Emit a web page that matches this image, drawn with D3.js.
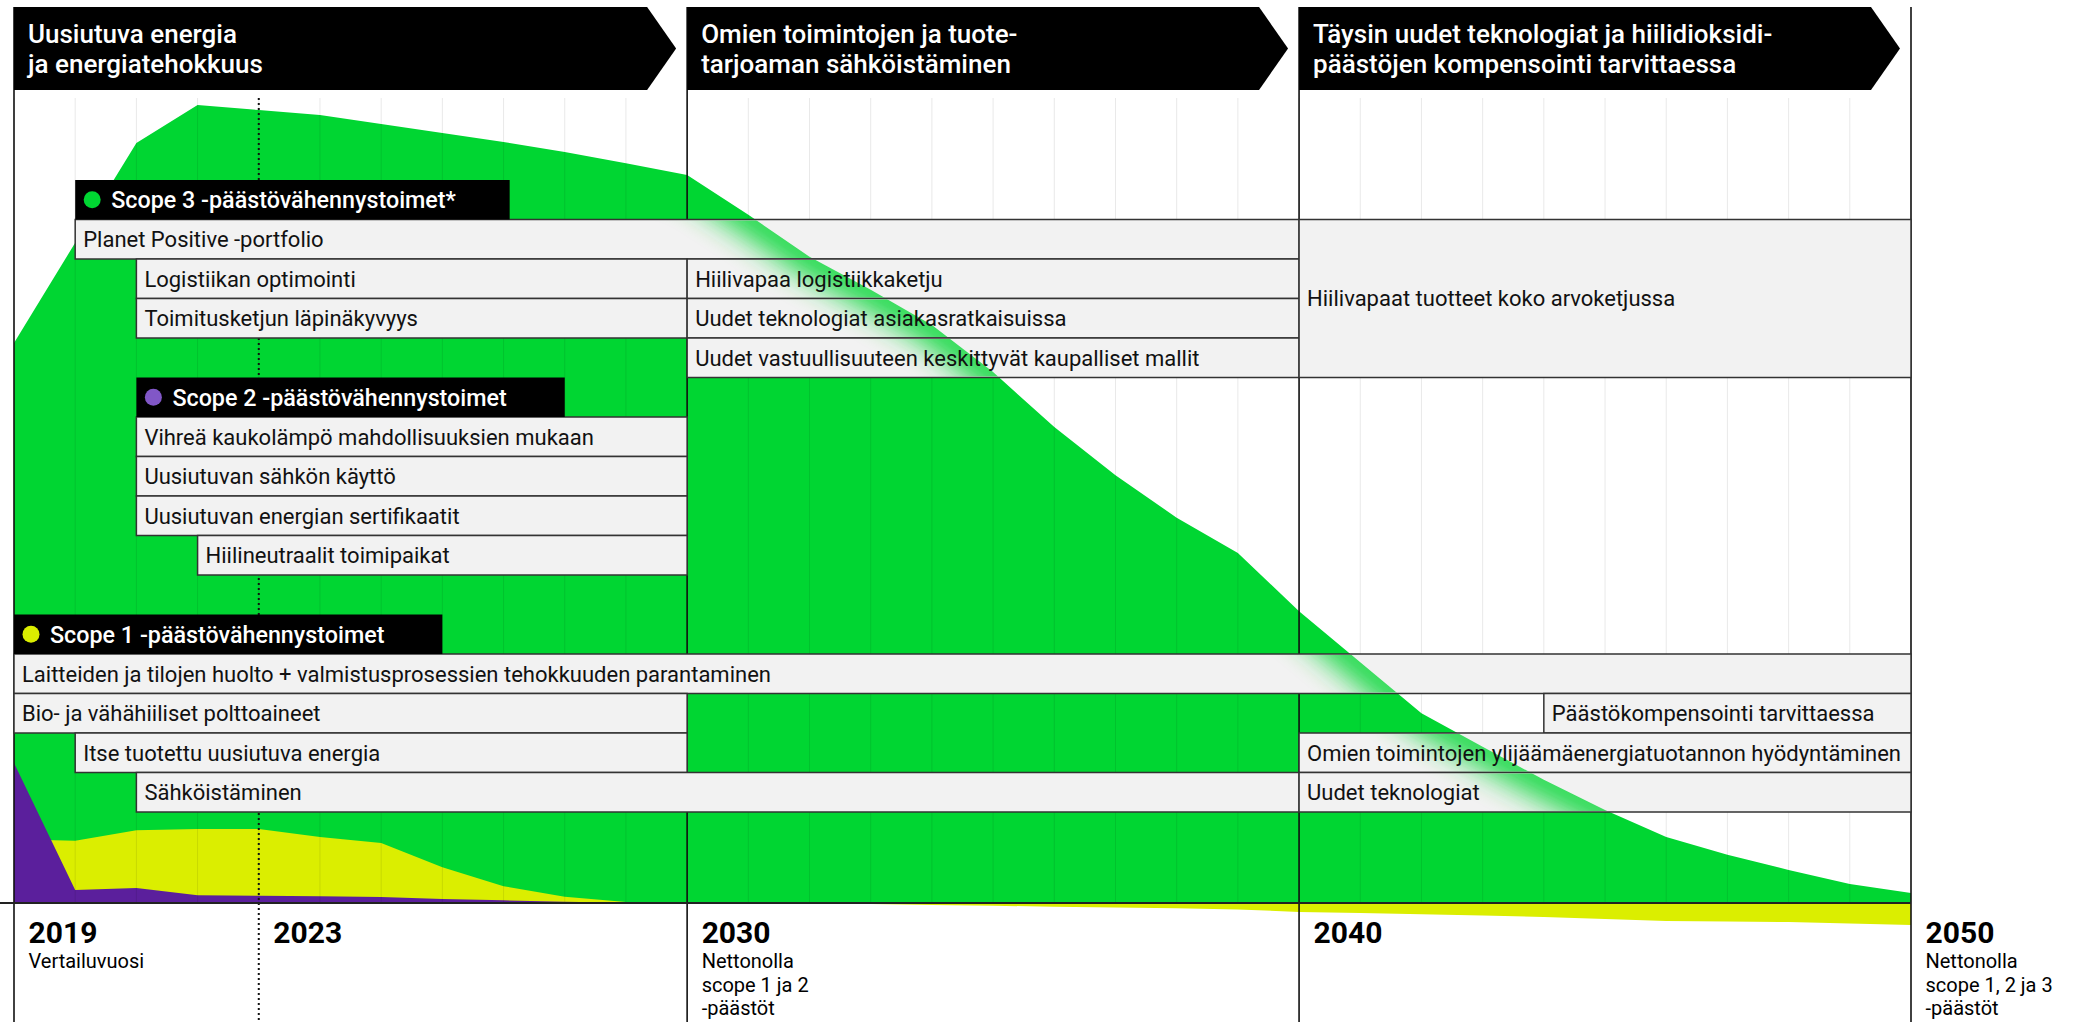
<!DOCTYPE html>
<html>
<head>
<meta charset="utf-8">
<script src="https://cdn.jsdelivr.net/npm/d3@7"></script>
<style>
  body { margin: 0; background: #fff; }
  svg { display: block; font-family: Roboto, "Noto Sans", sans-serif; }
</style>
</head>
<body>
<svg id="chart" width="2075" height="1022"></svg>
<script>
// Years on the time axis.
const years = [2019, 2020, 2021, 2022, 2023, 2024, 2025, 2026, 2027, 2028, 2029, 2030,
  2031, 2032, 2033, 2034, 2035, 2036, 2037, 2038, 2039, 2040,
  2041, 2042, 2043, 2044, 2045, 2046, 2047, 2048, 2049, 2050];

// Emissions index (2019 total = 100).
const total = [100, 117.9, 135.7, 142.5, 141.6, 140.7, 139.1, 137.5, 135.9, 134.1, 132.1, 130.0,
  122.9, 115.4, 109.5, 103.2, 94.8, 85.0, 76.4, 68.8, 62.5, 52.1,
  43.0, 33.9, 27.9, 22.0, 16.6, 11.8, 8.6, 5.9, 3.4, 1.8];
const scope1 = [11.4, 11.1, 13.0, 13.2, 13.2, 11.8, 10.7, 6.4, 3.0, 1.1, 0.2, 0,
  -0.05, -0.1, -0.2, -0.35, -0.5, -0.65, -0.8, -0.95, -1.15, -1.6,
  -1.8, -2.0, -2.25, -2.5, -2.85, -3.2, -3.3, -3.4, -3.65, -3.95];
const scope2 = [25.0, 2.3, 2.7, 1.4, 1.3, 1.2, 1.07, 0.7, 0.48, 0.23, 0.05, 0,
  0, 0, 0, 0, 0, 0, 0, 0, 0, 0,
  0, 0, 0, 0, 0, 0, 0, 0, 0, 0];

// Phase headers.
const phases = [
  { from: 2019, to: 2030, lines: ['Uusiutuva energia', 'ja energiatehokkuus'] },
  { from: 2030, to: 2040, lines: ['Omien toimintojen ja tuote-', 'tarjoaman sähköistäminen'] },
  { from: 2040, to: 2050, lines: ['Täysin uudet teknologiat ja hiilidioksidi-', 'päästöjen kompensointi tarvittaessa'] },
];

// Scope headings.
const scopes = [
  { label: 'Scope 3 -päästövähennystoimet*', row: 0, from: 2020, to: 2027.1, key: 'green' },
  { label: 'Scope 2 -päästövähennystoimet', row: 5, from: 2021, to: 2028, key: 'violet' },
  { label: 'Scope 1 -päästövähennystoimet', row: 11, from: 2019, to: 2026, key: 'yellow' },
];

// Actions on the timeline.
const actions = [
  { label: 'Planet Positive -portfolio', row: 1, from: 2020, to: 2040 },
  { label: 'Logistiikan optimointi', row: 2, from: 2021, to: 2030 },
  { label: 'Toimitusketjun läpinäkyvyys', row: 3, from: 2021, to: 2030 },
  { label: 'Hiilivapaa logistiikkaketju', row: 2, from: 2030, to: 2040 },
  { label: 'Uudet teknologiat asiakasratkaisuissa', row: 3, from: 2030, to: 2040 },
  { label: 'Uudet vastuullisuuteen keskittyvät kaupalliset mallit', row: 4, from: 2030, to: 2040 },
  { label: 'Hiilivapaat tuotteet koko arvoketjussa', row: 1, rows: 4, from: 2040, to: 2050 },
  { label: 'Vihreä kaukolämpö mahdollisuuksien mukaan', row: 6, from: 2021, to: 2030 },
  { label: 'Uusiutuvan sähkön käyttö', row: 7, from: 2021, to: 2030 },
  { label: 'Uusiutuvan energian sertifikaatit', row: 8, from: 2021, to: 2030 },
  { label: 'Hiilineutraalit toimipaikat', row: 9, from: 2022, to: 2030 },
  { label: 'Laitteiden ja tilojen huolto + valmistusprosessien tehokkuuden parantaminen', row: 12, from: 2019, to: 2050 },
  { label: 'Bio- ja vähähiiliset polttoaineet', row: 13, from: 2019, to: 2030 },
  { label: 'Päästökompensointi tarvittaessa', row: 13, from: 2044, to: 2050 },
  { label: 'Itse tuotettu uusiutuva energia', row: 14, from: 2020, to: 2030 },
  { label: 'Omien toimintojen ylijäämäenergiatuotannon hyödyntäminen', row: 14, from: 2040, to: 2050 },
  { label: 'Sähköistäminen', row: 15, from: 2021, to: 2040 },
  { label: 'Uudet teknologiat', row: 15, from: 2040, to: 2050 },
];

// Milestones under the axis.
const milestoneYears = [2019, 2023, 2030, 2040, 2050];
const milestoneNotes = [['Vertailuvuosi'], [], ['Nettonolla', 'scope 1 ja 2', '-päästöt'], [],
  ['Nettonolla', 'scope 1, 2 ja 3', '-päästöt']];
const sectionYears = [2019, 2030, 2040, 2050];
const todayYear = 2023;

const colors = { green: '#00d632', yellow: '#dbee00', violet: '#5b1f9c', violetDot: '#8157c7' };

// Layout.
const headTop = 7, headBottom = 90, plotTop = 98, baseY = 903;
const rowTop = 180, rowH = 39.5;

const svg = d3.select('#chart');
const x = d3.scaleLinear().domain([2019, 2050]).range([14, 1911]);
const y = d3.scaleLinear().domain([0, 100]).range([baseY, 343]);

const data = years.map((yr, i) => ({ year: yr, total: total[i], s1: scope1[i], s2: scope2[i] }));

const defs = svg.append('defs');

// Areas, each from the zero line.
const areaOf = key => d3.area().x(d => x(d.year)).y0(y(0)).y1(d => y(d[key]));
svg.append('path').datum(data).attr('d', areaOf('total')).attr('fill', colors.green);
svg.append('path').datum(data).attr('d', areaOf('s1')).attr('fill', colors.yellow);
svg.append('path').datum(data).attr('d', areaOf('s2')).attr('fill', colors.violet);

// Year grid.
svg.append('g')
  .selectAll('line')
  .data(years)
  .join('line')
  .attr('x1', d => x(d)).attr('x2', d => x(d))
  .attr('y1', plotTop).attr('y2', baseY)
  .attr('stroke', 'rgba(0,0,0,0.09)')
  .attr('stroke-width', 1);

// Current year dotted line.
svg.append('line')
  .attr('x1', x(todayYear)).attr('x2', x(todayYear))
  .attr('y1', plotTop).attr('y2', 1022)
  .attr('stroke', '#111').attr('stroke-width', 2)
  .attr('stroke-dasharray', '2,3');

// Section lines.
svg.append('g')
  .selectAll('line')
  .data(sectionYears)
  .join('line')
  .attr('x1', d => x(d)).attr('x2', d => x(d))
  .attr('y1', headTop).attr('y2', 1022)
  .attr('stroke', '#111').attr('stroke-width', 1.6);

// Zero line.
svg.append('line')
  .attr('x1', 0).attr('x2', x(2050))
  .attr('y1', y(0)).attr('y2', y(0))
  .attr('stroke', '#222').attr('stroke-width', 2);

// Action boxes.
const boxY = d => rowTop + d.row * rowH;
const boxH = d => (d.rows || 1) * rowH;

const boxes = svg.append('g');
boxes.selectAll('rect')
  .data(actions)
  .join('rect')
  .attr('x', d => x(d.from))
  .attr('y', boxY)
  .attr('width', d => x(d.to) - x(d.from))
  .attr('height', boxH)
  .attr('fill', '#f2f2f2')
  .attr('stroke', '#333')
  .attr('stroke-width', 1.5);

// Green fade where the emission curve runs under the boxes.
defs.append('clipPath').attr('id', 'clip-boxes')
  .selectAll('rect')
  .data(actions)
  .join('rect')
  .attr('x', d => x(d.from) + 1)
  .attr('y', d => boxY(d) + 1)
  .attr('width', d => x(d.to) - x(d.from) - 2)
  .attr('height', d => boxH(d) - 2);
defs.append('clipPath').attr('id', 'clip-area')
  .append('path').datum(data).attr('d', areaOf('total'));
defs.append('filter').attr('id', 'soft')
  .attr('filterUnits', 'userSpaceOnUse')
  .attr('x', 0).attr('y', 0).attr('width', 2075).attr('height', 1022)
  .append('feGaussianBlur').attr('stdDeviation', 15);

svg.append('g').attr('clip-path', 'url(#clip-boxes)')
  .append('g').attr('clip-path', 'url(#clip-area)')
  .append('path')
  .datum(data.filter(d => d.year >= 2029))
  .attr('d', d3.line().x(d => x(d.year)).y(d => y(d.total)))
  .attr('fill', 'none')
  .attr('stroke', colors.green)
  .attr('stroke-width', 36)
  .attr('opacity', 0.95)
  .attr('filter', 'url(#soft)');

// Action labels.
svg.append('g')
  .selectAll('text')
  .data(actions)
  .join('text')
  .attr('x', d => x(d.from) + 8)
  .attr('y', d => boxY(d) + boxH(d) / 2 + 7.8)
  .attr('font-size', 22)
  .attr('fill', '#111')
  .text(d => d.label);

// Scope headings.
const sc = svg.append('g')
  .selectAll('g')
  .data(scopes)
  .join('g')
  .attr('transform', d => `translate(${x(d.from)},${rowTop + d.row * rowH})`);
sc.append('rect')
  .attr('width', d => x(d.to) - x(d.from))
  .attr('height', rowH)
  .attr('fill', '#000');
sc.append('circle')
  .attr('cx', 17).attr('cy', rowH / 2).attr('r', 8.5)
  .attr('fill', d => d.key === 'violet' ? colors.violetDot : colors[d.key]);
sc.append('text')
  .attr('x', 36).attr('y', rowH / 2 + 8.5)
  .attr('font-size', 23.3)
  .attr('font-weight', 500)
  .attr('fill', '#fff')
  .text(d => d.label);

// Phase headers.
const ph = svg.append('g')
  .selectAll('g')
  .data(phases)
  .join('g');
ph.append('path')
  .attr('d', d => {
    const x0 = x(d.from), x1 = x(d.to) - 11, mid = (headTop + headBottom) / 2;
    return `M${x0},${headTop}H${x1 - 29}L${x1},${mid}L${x1 - 29},${headBottom}H${x0}Z`;
  })
  .attr('fill', '#000');
ph.append('text')
  .attr('x', d => x(d.from) + 14)
  .attr('y', 43)
  .attr('font-size', 26)
  .attr('font-weight', 500)
  .attr('fill', '#fff')
  .selectAll('tspan')
  .data(d => d.lines)
  .join('tspan')
  .attr('x', function() { return this.parentNode.getAttribute('x'); })
  .attr('dy', (d, i) => i ? 29.5 : 0)
  .text(d => d);

// Axis with milestone years.
const axis = svg.append('g')
  .attr('transform', `translate(0,943)`)
  .call(d3.axisBottom(x).tickValues(milestoneYears).tickSize(0).tickFormat(d3.format('d')));
axis.select('.domain').remove();
axis.attr('text-anchor', 'start');
axis.selectAll('.tick text')
  .attr('x', 14).attr('y', 0).attr('dy', 0)
  .attr('text-anchor', 'start')
  .attr('font-family', 'Roboto, sans-serif')
  .attr('font-size', 30)
  .attr('font-weight', 700)
  .attr('fill', '#000');
axis.selectAll('.tick')
  .each(function(d, i) {
    d3.select(this).selectAll('.note')
      .data(milestoneNotes[i])
      .join('text')
      .attr('class', 'note')
      .attr('x', 14)
      .attr('y', (t, j) => 25 + j * 23.5)
      .attr('text-anchor', 'start')
      .attr('font-family', 'Roboto, sans-serif')
      .attr('font-size', 20)
      .attr('fill', '#000')
      .text(t => t);
  });
</script>
</body>
</html>
